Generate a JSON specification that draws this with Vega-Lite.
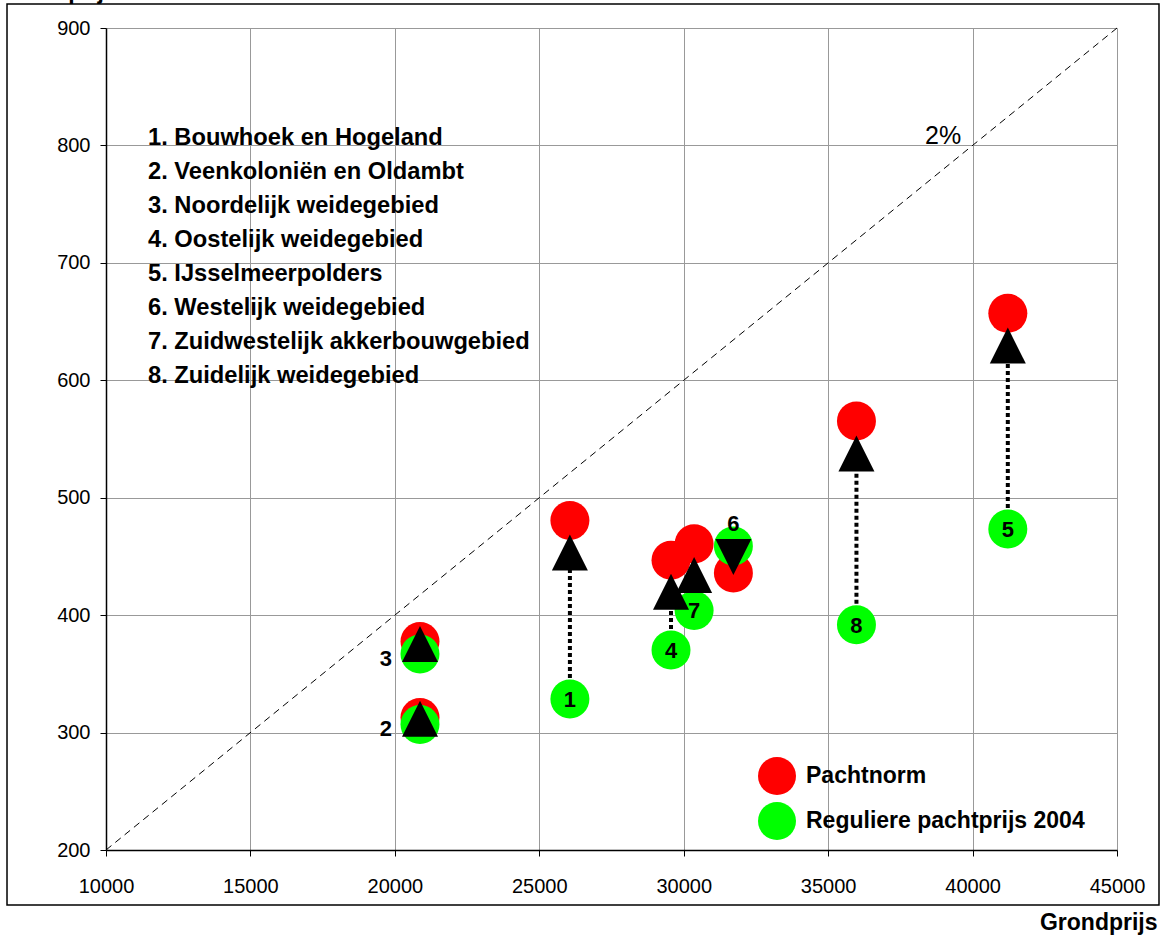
{
  "$schema": "https://vega.github.io/schema/vega-lite/v6.json",
  "width": 1011,
  "height": 822,
  "autosize": {"type": "none"},
  "padding": {"left": 106, "top": 28, "right": 45, "bottom": 91},
  "background": "white",
  "config": {"view": {"stroke": null}, "font": "Liberation Sans"},
  "datasets": {
    "regions": [
      {"id": 1, "g": 26060, "Pachtnorm": 480.6, "Reguliere pachtprijs 2004": 328.6, "nieuw": 453.3},
      {"id": 2, "g": 20870, "Pachtnorm": 312.8, "Reguliere pachtprijs 2004": 306.9, "nieuw": 311.8},
      {"id": 3, "g": 20870, "Pachtnorm": 377.5, "Reguliere pachtprijs 2004": 367.0, "nieuw": 375.4},
      {"id": 4, "g": 29560, "Pachtnorm": 446.7, "Reguliere pachtprijs 2004": 370.3, "nieuw": 419.9},
      {"id": 5, "g": 41220, "Pachtnorm": 657.0, "Reguliere pachtprijs 2004": 473.4, "nieuw": 629.6},
      {"id": 6, "g": 31720, "Pachtnorm": 435.9, "Reguliere pachtprijs 2004": 458.9, "nieuw": 449.5},
      {"id": 7, "g": 30360, "Pachtnorm": 460.7, "Reguliere pachtprijs 2004": 404.0, "nieuw": 434.2},
      {"id": 8, "g": 35980, "Pachtnorm": 565.4, "Reguliere pachtprijs 2004": 391.8, "nieuw": 537.7}
    ],
    "diag": [
      {"g": 10000, "p": 200},
      {"g": 45000, "p": 900}
    ]
  },
  "layer": [
    {
      "data": {"name": "diag"},
      "mark": {"type": "line", "color": "black", "strokeWidth": 1, "strokeDash": [7, 5]},
      "encoding": {
        "x": {
          "field": "g", "type": "quantitative", "title": "Grondprijs",
          "scale": {"domain": [10000, 45000], "nice": false, "zero": false},
          "axis": {
            "values": [10000, 15000, 20000, 25000, 30000, 35000, 40000, 45000],
            "format": "d",
            "grid": true, "gridColor": "#999999", "gridWidth": 1,
            "domainColor": "black", "domainWidth": 1.5,
            "tickColor": "black", "tickSize": 6, "tickWidth": 1,
            "labelFont": "Liberation Sans", "labelFontSize": 20, "labelColor": "black",
            "labelPadding": 20, "labelFlush": false, "labelOverlap": false, "labelBound": false,
            "titleFont": "Liberation Sans", "titleFontSize": 23, "titleFontWeight": "bold", "titleColor": "black",
            "titleAlign": "right", "titleAnchor": null, "titleX": 1051, "titleY": 79, "titleBaseline": "alphabetic"
          }
        },
        "y": {
          "field": "p", "type": "quantitative", "title": "Pachtprijs/ha",
          "scale": {"domain": [200, 900], "nice": false, "zero": false},
          "axis": {
            "values": [200, 300, 400, 500, 600, 700, 800, 900],
            "grid": true, "gridColor": "#999999", "gridWidth": 1,
            "domainColor": "black", "domainWidth": 1.5,
            "tickColor": "black", "tickSize": 6, "tickWidth": 1,
            "labelFont": "Liberation Sans", "labelFontSize": 20, "labelColor": "black",
            "labelPadding": 10, "labelOverlap": false, "labelBound": false, "labelFlush": false,
            "titleFont": "Liberation Sans", "titleFontSize": 23, "titleFontWeight": "bold", "titleColor": "black",
            "titleAngle": 0, "titleAlign": "left", "titleAnchor": null, "titleX": -101, "titleY": -30, "titleBaseline": "alphabetic"
          }
        }
      }
    },
    {
      "data": {"values": [{}]},
      "mark": {"type": "rect", "fill": null, "stroke": "black", "strokeWidth": 1.5, "clip": false},
      "encoding": {
        "x": {"datum": 6573, "type": "quantitative", "title": "Grondprijs"},
        "x2": {"datum": 46454},
        "y": {"datum": 920.4, "type": "quantitative", "title": "Pachtprijs/ha"},
        "y2": {"datum": 153.2}
      }
    },
    {
      "data": {"name": "regions"},
      "mark": {"type": "rule", "color": "black", "strokeWidth": 4, "strokeDash": [4, 3]},
      "encoding": {
        "x": {"field": "g", "type": "quantitative", "title": "Grondprijs"},
        "y": {"field": "Reguliere pachtprijs 2004", "type": "quantitative", "title": "Pachtprijs/ha"},
        "y2": {"field": "nieuw"}
      }
    },
    {
      "data": {"name": "regions"},
      "transform": [
        {"fold": ["Pachtnorm", "Reguliere pachtprijs 2004"], "as": ["reeks", "pacht"]}
      ],
      "mark": {"type": "circle", "size": 1521, "opacity": 1, "strokeWidth": 0},
      "encoding": {
        "x": {"field": "g", "type": "quantitative", "title": "Grondprijs"},
        "y": {"field": "pacht", "type": "quantitative", "title": "Pachtprijs/ha"},
        "color": {
          "field": "reeks", "type": "nominal",
          "scale": {"domain": ["Pachtnorm", "Reguliere pachtprijs 2004"], "range": ["#ff0000", "#00ff00"]},
          "legend": {
            "orient": "none", "legendX": 652, "legendY": 729, "title": null,
            "padding": 0, "symbolType": "circle", "symbolSize": 1444, "symbolStrokeWidth": 0,
            "rowPadding": 7, "labelOffset": 10,
            "labelFont": "Liberation Sans", "labelFontSize": 23, "labelFontWeight": "bold", "labelColor": "black",
            "labelLimit": 400
          }
        }
      }
    },
    {
      "data": {"name": "regions"},
      "transform": [{"filter": "datum.id != 6"}],
      "mark": {"type": "point", "shape": "M0,-1L1,1L-1,1Z", "filled": true, "color": "black", "size": 1296, "opacity": 1},
      "encoding": {
        "x": {"field": "g", "type": "quantitative", "title": "Grondprijs"},
        "y": {"field": "nieuw", "type": "quantitative", "title": "Pachtprijs/ha"}
      }
    },
    {
      "data": {"name": "regions"},
      "transform": [{"filter": "datum.id == 6"}],
      "mark": {"type": "point", "shape": "M0,1L1,-1L-1,-1Z", "filled": true, "color": "black", "size": 1296, "opacity": 1},
      "encoding": {
        "x": {"field": "g", "type": "quantitative", "title": "Grondprijs"},
        "y": {"field": "nieuw", "type": "quantitative", "title": "Pachtprijs/ha"}
      }
    },
    {
      "data": {"name": "regions"},
      "transform": [{"filter": "datum.id == 1 || datum.id == 4 || datum.id == 5 || datum.id == 7 || datum.id == 8"}],
      "mark": {"type": "text", "font": "Liberation Sans", "fontWeight": "bold", "fontSize": 22, "color": "black", "align": "center", "baseline": "middle", "dy": 1},
      "encoding": {
        "x": {"field": "g", "type": "quantitative", "title": "Grondprijs"},
        "y": {"field": "Reguliere pachtprijs 2004", "type": "quantitative", "title": "Pachtprijs/ha"},
        "text": {"field": "id", "type": "nominal"}
      }
    },
    {
      "data": {"name": "regions"},
      "transform": [{"filter": "datum.id == 6"}],
      "mark": {"type": "text", "font": "Liberation Sans", "fontWeight": "bold", "fontSize": 22, "color": "black", "align": "center", "baseline": "middle", "dy": -22},
      "encoding": {
        "x": {"field": "g", "type": "quantitative", "title": "Grondprijs"},
        "y": {"field": "Reguliere pachtprijs 2004", "type": "quantitative", "title": "Pachtprijs/ha"},
        "text": {"field": "id", "type": "nominal"}
      }
    },
    {
      "data": {"name": "regions"},
      "transform": [{"filter": "datum.id == 2 || datum.id == 3"}],
      "mark": {"type": "text", "font": "Liberation Sans", "fontWeight": "bold", "fontSize": 22, "color": "black", "align": "center", "baseline": "middle", "dx": -34, "dy": 5},
      "encoding": {
        "x": {"field": "g", "type": "quantitative", "title": "Grondprijs"},
        "y": {"field": "Reguliere pachtprijs 2004", "type": "quantitative", "title": "Pachtprijs/ha"},
        "text": {"field": "id", "type": "nominal"}
      }
    },
    {
      "data": {"values": [{}]},
      "mark": {
        "type": "text", "font": "Liberation Sans", "fontWeight": "bold", "fontSize": 23.7, "color": "black",
        "align": "left", "baseline": "alphabetic", "lineHeight": 34,
        "text": [
          "1. Bouwhoek en Hogeland",
          "2. Veenkoloniën en Oldambt",
          "3. Noordelijk weidegebied",
          "4. Oostelijk weidegebied",
          "5. IJsselmeerpolders",
          "6. Westelijk weidegebied",
          "7. Zuidwestelijk akkerbouwgebied",
          "8. Zuidelijk weidegebied"
        ]
      },
      "encoding": {
        "x": {"datum": 11454, "type": "quantitative", "title": "Grondprijs"},
        "y": {"datum": 800.4, "type": "quantitative", "title": "Pachtprijs/ha"}
      }
    },
    {
      "data": {"values": [{}]},
      "mark": {"type": "text", "font": "Liberation Sans", "fontSize": 25, "color": "black", "align": "left", "baseline": "alphabetic", "text": "2%"},
      "encoding": {
        "x": {"datum": 38353, "type": "quantitative", "title": "Grondprijs"},
        "y": {"datum": 801, "type": "quantitative", "title": "Pachtprijs/ha"}
      }
    }
  ]
}
